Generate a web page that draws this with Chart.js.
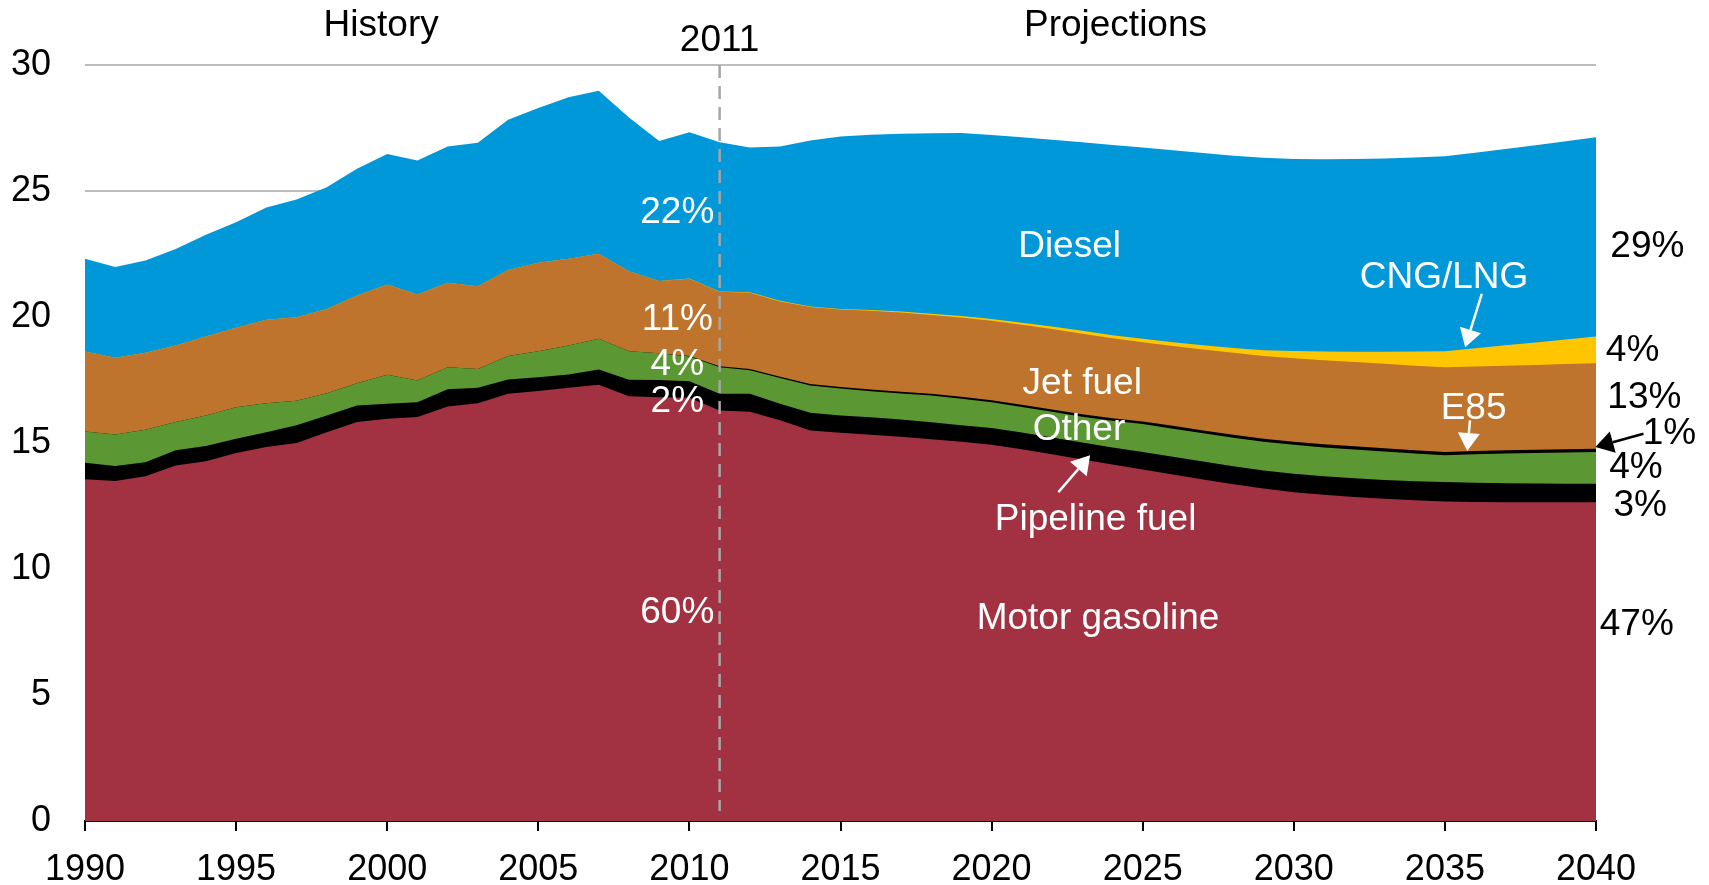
<!DOCTYPE html>
<html>
<head>
<meta charset="utf-8">
<script src="https://cdn.jsdelivr.net/npm/chart.js@4.4.1/dist/chart.umd.min.js"></script>
<style>
  body { margin: 0; background: #fff; }
  #wrap { width: 1709px; height: 885px; }
</style>
</head>
<body>
<div id="wrap"><canvas id="myChart" width="1709" height="885"></canvas></div>
<script>
// transportation energy use by fuel, 1990-2040 (history to 2011, then projections)
const years = [1990, 1991, 1992, 1993, 1994, 1995, 1996, 1997, 1998, 1999,
  2000, 2001, 2002, 2003, 2004, 2005, 2006, 2007, 2008, 2009,
  2010, 2011, 2012, 2013, 2014, 2015, 2016, 2017, 2018, 2019,
  2020, 2021, 2022, 2023, 2024, 2025, 2026, 2027, 2028, 2029,
  2030, 2031, 2032, 2033, 2034, 2035, 2036, 2037, 2038, 2039, 2040];

const motorGasoline = [13.56, 13.49, 13.68, 14.11, 14.28, 14.60, 14.84, 15.00, 15.43, 15.83,
  15.96, 16.03, 16.45, 16.58, 16.95, 17.06, 17.19, 17.31, 16.86, 16.82,
  16.80, 16.29, 16.24, 15.90, 15.50, 15.41, 15.33, 15.25, 15.15, 15.05,
  14.93, 14.75, 14.55, 14.35, 14.15, 13.95, 13.75, 13.55, 13.36, 13.19,
  13.05, 12.95, 12.86, 12.79, 12.73, 12.68, 12.66, 12.65, 12.65, 12.65, 12.65];

const pipelineFuel = [0.66, 0.60, 0.56, 0.60, 0.60, 0.57, 0.59, 0.70, 0.66, 0.66,
  0.60, 0.59, 0.68, 0.61, 0.57, 0.55, 0.53, 0.61, 0.65, 0.68,
  0.65, 0.66, 0.71, 0.66, 0.70, 0.68, 0.69, 0.68, 0.67, 0.65,
  0.67, 0.67, 0.67, 0.67, 0.67, 0.69, 0.70, 0.72, 0.72, 0.72,
  0.73, 0.73, 0.74, 0.74, 0.75, 0.77, 0.76, 0.75, 0.74, 0.73, 0.73];

const other = [1.24, 1.25, 1.29, 1.12, 1.21, 1.25, 1.15, 0.98, 0.88, 0.88,
  1.15, 0.86, 0.88, 0.75, 0.93, 1.03, 1.15, 1.22, 1.13, 1.06,
  0.98, 1.06, 0.94, 1.02, 1.08, 1.07, 1.03, 1.03, 1.06, 1.06,
  1.02, 1.01, 1.02, 1.02, 1.06, 1.11, 1.12, 1.12, 1.13, 1.14,
  1.15, 1.14, 1.14, 1.13, 1.10, 1.06, 1.13, 1.18, 1.21, 1.24, 1.26];

const e85 = [0, 0, 0, 0, 0, 0, 0, 0, 0, 0,
  0, 0, 0, 0, 0, 0, 0, 0, 0, 0,
  0.02, 0.04, 0.05, 0.05, 0.06, 0.06, 0.07, 0.07, 0.07, 0.08,
  0.08, 0.09, 0.09, 0.10, 0.10, 0.10, 0.11, 0.11, 0.12, 0.12,
  0.12, 0.13, 0.13, 0.13, 0.13, 0.13, 0.13, 0.13, 0.13, 0.13, 0.13];

const jetFuel = [3.17, 3.04, 3.05, 3.04, 3.14, 3.15, 3.31, 3.31, 3.35, 3.48,
  3.58, 3.41, 3.35, 3.28, 3.42, 3.51, 3.44, 3.37, 3.18, 2.87,
  3.07, 2.95, 3.02, 2.99, 3.06, 3.08, 3.13, 3.15, 3.13, 3.14,
  3.15, 3.17, 3.19, 3.20, 3.18, 3.15, 3.17, 3.21, 3.25, 3.28,
  3.31, 3.33, 3.34, 3.35, 3.36, 3.37, 3.36, 3.36, 3.37, 3.38, 3.39];

const cngLng = [0, 0, 0, 0, 0, 0, 0, 0, 0, 0,
  0, 0, 0, 0, 0, 0, 0, 0, 0, 0,
  0.01, 0.01, 0.02, 0.02, 0.02, 0.02, 0.03, 0.04, 0.05, 0.06,
  0.07, 0.08, 0.10, 0.11, 0.12, 0.14, 0.15, 0.17, 0.19, 0.23,
  0.29, 0.35, 0.41, 0.48, 0.56, 0.63, 0.72, 0.81, 0.89, 0.98, 1.07];

const diesel = [3.68, 3.60, 3.66, 3.83, 4.03, 4.19, 4.46, 4.67, 4.83, 5.03,
  5.18, 5.32, 5.41, 5.69, 5.96, 6.14, 6.41, 6.47, 6.10, 5.55,
  5.80, 5.92, 5.75, 6.13, 6.58, 6.84, 6.95, 7.05, 7.16, 7.26,
  7.30, 7.36, 7.41, 7.48, 7.55, 7.59, 7.62, 7.63, 7.63, 7.64,
  7.62, 7.63, 7.65, 7.67, 7.70, 7.74, 7.76, 7.79, 7.83, 7.86, 7.90];

const yTicks = [0, 5, 10, 15, 20, 25, 30];
const xTicks = [1990, 1995, 2000, 2005, 2010, 2015, 2020, 2025, 2030, 2035, 2040];
const splitYear = 2011;

// text on the chart, placed in data units (year, value)
const notes = [
  { text: 'History', x: 1999.8, y: 31.66, color: '#000' },
  { text: '2011', x: 2011, y: 31.08, color: '#000' },
  { text: 'Projections', x: 2024.1, y: 31.68, color: '#000' },
  { text: '22%', x: 2009.6, y: 24.24, color: '#fff' },
  { text: '11%', x: 2009.6, y: 20.01, color: '#fff' },
  { text: '4%', x: 2009.6, y: 18.21, color: '#fff' },
  { text: '2%', x: 2009.6, y: 16.76, color: '#fff' },
  { text: '60%', x: 2009.6, y: 8.40, color: '#fff' },
  { text: 'Diesel', x: 2022.58, y: 22.91, color: '#fff' },
  { text: 'CNG/LNG', x: 2034.97, y: 21.67, color: '#fff' },
  { text: 'Jet fuel', x: 2023.0, y: 17.48, color: '#fff' },
  { text: 'E85', x: 2035.95, y: 16.48, color: '#fff' },
  { text: 'Other', x: 2022.89, y: 15.65, color: '#fff' },
  { text: 'Pipeline fuel', x: 2023.44, y: 12.06, color: '#fff' },
  { text: 'Motor gasoline', x: 2023.52, y: 8.16, color: '#fff' },
  { text: '29%', x: 2041.7, y: 22.89, color: '#000' },
  { text: '4%', x: 2041.21, y: 18.77, color: '#000' },
  { text: '13%', x: 2041.6, y: 16.91, color: '#000' },
  { text: '1%', x: 2042.43, y: 15.49, color: '#000' },
  { text: '4%', x: 2041.32, y: 14.14, color: '#000' },
  { text: '3%', x: 2041.46, y: 12.62, color: '#000' },
  { text: '47%', x: 2041.35, y: 7.92, color: '#000' }
];

const arrows = [
  { from: [2036.22, 20.92], to: [2035.67, 18.80], color: '#fff' },
  { from: [2035.83, 15.90], to: [2035.74, 14.68], color: '#fff' },
  { from: [2022.21, 13.05], to: [2023.26, 14.51], color: '#fff' },
  { from: [2041.57, 15.37], to: [2039.98, 14.84], color: '#000' }
];

const FONT = '"Liberation Sans", Arial, sans-serif';

function series(label, values, color) {
  return {
    label: label,
    data: values.map((v, i) => ({ x: years[i], y: v })),
    backgroundColor: color,
    borderColor: color,
    borderWidth: 0,
    pointRadius: 0,
    tension: 0,
    fill: 'origin'
  };
}

// divider, labels and arrows
const annotate = {
  id: 'annotate',
  afterDatasetsDraw(chart) {
    const { ctx, scales: { x, y } } = chart;
    ctx.save();

    // dashed 2011 line
    const sx = x.getPixelForValue(splitYear);
    ctx.strokeStyle = '#a6a6a6';
    ctx.lineWidth = 2.5;
    ctx.setLineDash([13, 8]);
    ctx.beginPath();
    ctx.moveTo(sx, y.getPixelForValue(30));
    ctx.lineTo(sx, y.getPixelForValue(0.4));
    ctx.stroke();
    ctx.setLineDash([]);

    // arrows
    arrows.forEach(a => {
      const x1 = x.getPixelForValue(a.from[0]), y1 = y.getPixelForValue(a.from[1]);
      const x2 = x.getPixelForValue(a.to[0]), y2 = y.getPixelForValue(a.to[1]);
      const ang = Math.atan2(y2 - y1, x2 - x1);
      const len = 18, half = 11;
      const bx = x2 - len * Math.cos(ang), by = y2 - len * Math.sin(ang);
      ctx.strokeStyle = a.color;
      ctx.fillStyle = a.color;
      ctx.lineWidth = 2.5;
      ctx.beginPath();
      ctx.moveTo(x1, y1);
      ctx.lineTo(bx, by);
      ctx.stroke();
      ctx.beginPath();
      ctx.moveTo(x2, y2);
      ctx.lineTo(bx + half * Math.sin(ang), by - half * Math.cos(ang));
      ctx.lineTo(bx - half * Math.sin(ang), by + half * Math.cos(ang));
      ctx.closePath();
      ctx.fill();
    });

    // texts
    ctx.font = '37px ' + FONT;
    ctx.textAlign = 'center';
    ctx.textBaseline = 'middle';
    notes.forEach(n => {
      ctx.fillStyle = n.color;
      ctx.fillText(n.text, x.getPixelForValue(n.x), y.getPixelForValue(n.y) + 3);
    });
    ctx.restore();
  }
};

const config = {
  type: 'line',
  data: {
    datasets: [
      series('Motor gasoline', motorGasoline, '#a23241'),
      series('Pipeline fuel', pipelineFuel, '#000000'),
      series('Other', other, '#5b9833'),
      series('E85', e85, '#000000'),
      series('Jet fuel', jetFuel, '#be742c'),
      series('CNG/LNG', cngLng, '#ffc600'),
      series('Diesel', diesel, '#0098d8')
    ]
  },
  options: {
    responsive: false,
    animation: false,
    devicePixelRatio: 1,
    layout: { padding: { top: 65, right: 113, left: 0, bottom: 0 } },
    plugins: {
      legend: { display: false },
      tooltip: { enabled: false }
    },
    scales: {
      x: {
        type: 'linear',
        min: 1990,
        max: 2040,
        afterBuildTicks: (scale) => { scale.ticks = xTicks.map(v => ({ value: v })); },
        afterFit: (scale) => { scale.height = 64; },
        ticks: {
          callback: (v) => String(v),
          color: '#000',
          font: { family: FONT, size: 36 },
          padding: 17,
          maxRotation: 0
        },
        grid: {
          drawOnChartArea: false,
          drawTicks: true,
          tickLength: 10,
          color: '#000',
          lineWidth: 2
        },
        border: { display: true, color: '#000', width: 2 }
      },
      y: {
        stacked: true,
        min: 0,
        max: 30,
        afterBuildTicks: (scale) => { scale.ticks = yTicks.map(v => ({ value: v })); },
        afterFit: (scale) => { scale.width = 85; },
        ticks: {
          color: '#000',
          font: { family: FONT, size: 36 },
          padding: 34
        },
        grid: {
          color: '#bdbdbd',
          lineWidth: 2,
          drawTicks: false
        },
        border: { display: false }
      }
    }
  },
  plugins: [annotate]
};

const myChart = new Chart(document.getElementById('myChart'), config);
</script>
</body>
</html>
